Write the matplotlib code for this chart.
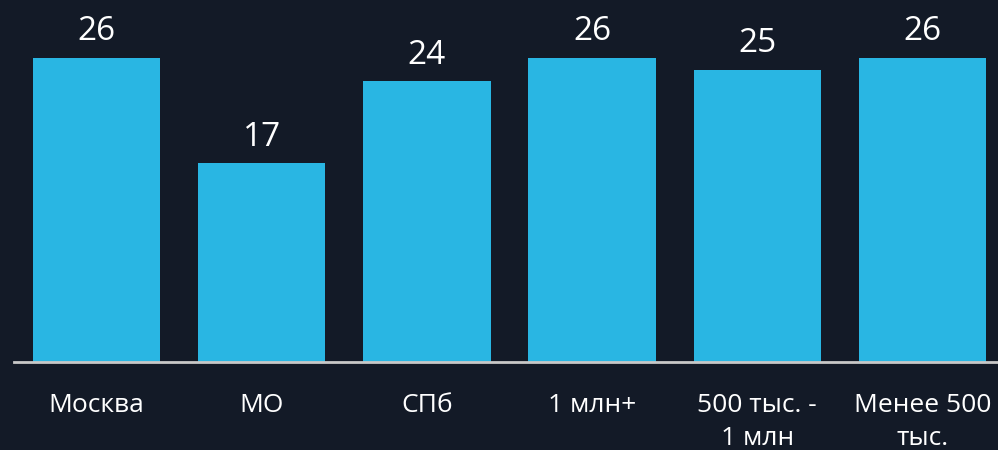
import matplotlib
matplotlib.use('Agg')
import matplotlib.pyplot as plt

categories = ['Москва', 'МО', 'СПб', '1 млн+', '500 тыс. -\n1 млн', 'Менее 500\nтыс.']
values = [26, 17, 24, 26, 25, 26]

BG = '#131a27'
BAR = '#29b6e3'

plt.rcParams['font.family'] = ['Open Sans', 'DejaVu Sans']

fig = plt.figure(figsize=(9.98, 4.5), dpi=100, facecolor=BG)
ax = fig.add_axes([14 / 998, 88 / 450, 991 / 998, 362 / 450])
ax.set_facecolor(BG)

x = list(range(len(categories)))
bars = ax.bar(x, values, width=0.77, color=BAR)

# подписи значений над столбцами
for xi, v in zip(x, values):
    ax.annotate(str(v), (xi, v), xytext=(0, 7), textcoords='offset points',
                ha='center', va='bottom', color='white', fontsize=24)

ax.set_xlim(-0.5, 5.5)
ax.set_ylim(0, 362 / (304 / 26))
ax.set_xticks(x)
ax.set_xticklabels(categories, color='white', fontsize=19, linespacing=1.45)
ax.tick_params(axis='x', length=0, pad=22)
ax.set_yticks([])

for side in ['top', 'right', 'left']:
    ax.spines[side].set_visible(False)
ax.spines['bottom'].set_color('#c8c8c8')
ax.spines['bottom'].set_linewidth(2)

fig.savefig('out.png', dpi=100, facecolor=BG)
